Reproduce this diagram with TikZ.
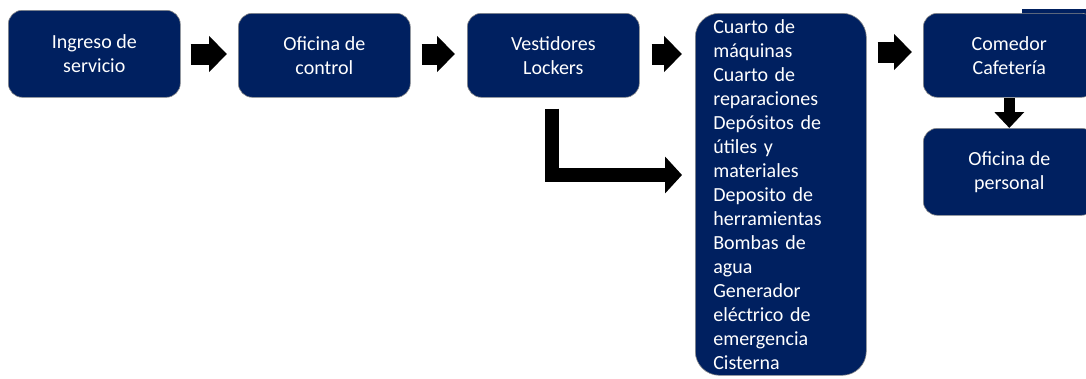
\documentclass[tikz,border=0pt]{standalone}
\usepackage{fontspec}
\setmainfont{Carlito}
\usetikzlibrary{arrows.meta}
\definecolor{navy}{HTML}{002060}
\tikzset{
  box/.style={fill=navy, draw=black!45, line width=0.6pt, rounded corners=14pt,
    text=white, align=center, minimum width=172pt, minimum height=86pt,
    inner sep=0pt, font=\fontsize{20}{24}\selectfont},
  bigbox/.style={box, rounded corners=24pt, align=left, text width=135pt,
    minimum width=171pt, minimum height=362pt},
  blockarrow/.style={line width=21pt, -{Triangle[length=18pt,width=35pt]}},
  downarrow/.style={line width=11pt, -{Triangle[length=16pt,width=29pt]}},
  larrow/.style={line width=14pt, line join=miter, -{Triangle[length=17pt,width=36pt]}}
}
\begin{document}
\begin{tikzpicture}[x=1pt,y=-1pt]
\useasboundingbox (0,0) rectangle (1086,378);
\fill[navy] (1022,9) rectangle (1086,30);
\node[box, minimum height=87pt, anchor=north west] (b1) at (8,10) {Ingreso de\\servicio};
\node[box, minimum height=84pt, anchor=north west] (b2) at (238,13) {Oficina de\\control};
\node[box, minimum height=84pt, anchor=north west] (b3) at (467,13) {Vestidores\\Lockers};
\node[bigbox, anchor=north west] (b4) at (695,13) {Cuarto de\\máquinas\\Cuarto de\\reparaciones\\Depósitos de\\útiles y\\materiales\\Deposito de\\herramientas\\Bombas de\\agua\\Generador\\eléctrico de\\emergencia\\Cisterna};
\node[box, minimum height=84pt, anchor=north west] (b5) at (923,13) {Comedor\\Cafetería};
\node[box, minimum height=87pt, anchor=north west] (b6) at (923,128) {Oficina de\\personal};
\coordinate (ya) at (0,54);
\coordinate (yb) at (0,52);
\draw[blockarrow, shorten <=10pt, shorten >=11pt] (b1.east |- ya) -- (b2.west |- ya);
\draw[blockarrow, shorten <=11pt, shorten >=12pt] (b2.east |- ya) -- (b3.west |- ya);
\draw[blockarrow, shorten <=12pt, shorten >=13pt] (b3.east |- ya) -- (b4.west |- ya);
\draw[blockarrow, shorten <=11pt, shorten >=11pt] (b4.east |- yb) -- (b5.west |- yb);
\draw[downarrow] (b5.south) -- (b6.north);
\coordinate (lc) at (552,175);
\draw[larrow, shorten <=11pt, shorten >=13pt] (b3.south -| lc) -- (lc) -- (lc -| b4.west);
\end{tikzpicture}
\end{document}
